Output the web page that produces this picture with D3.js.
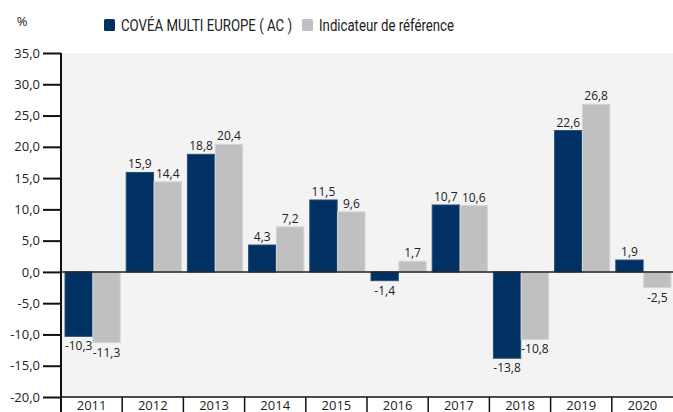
<!DOCTYPE html>
<html>
  <head>
    <script src="https://d3js.org/d3.v7.min.js" charset="utf-8"></script>
    <style>
      body { margin: 0; background: #fff; }
      text { font-family: "Open Sans", "Noto Sans", sans-serif; fill: #222; }
    </style>
  </head>
  <body>
    <svg id="chart"></svg>
    <script>
      const years = ["2011", "2012", "2013", "2014", "2015", "2016", "2017", "2018", "2019", "2020"]
      const fundValues = [-10.3, 15.9, 18.8, 4.3, 11.5, -1.4, 10.7, -13.8, 22.6, 1.9]
      const benchValues = [-11.3, 14.4, 20.4, 7.2, 9.6, 1.7, 10.6, -10.8, 26.8, -2.5]
      const seriesNames = ["COVÉA MULTI EUROPE ( AC )", "Indicateur de référence"]
      const yTicks = [-20, -15, -10, -5, 0, 5, 10, 15, 20, 25, 30, 35]

      const W = 673, H = 412
      const margin = {top: 53, right: 0, bottom: 15, left: 61}
      const width = W - margin.left - margin.right,
          height = H - margin.top - margin.bottom
      const colors = ["#003162", "#c0c0c0"]
      const fmt = v => d3.format(".1f")(v).replace(".", ",").replace("−", "-")

      const svg = d3.select("#chart").attr("width", W).attr("height", H)
      const g = svg.append("g").attr("transform", `translate(${margin.left}, ${margin.top})`)

      var xScale = d3.scaleBand().domain(years).range([0, width])
      var inner = d3.scaleBand().domain([0, 1]).range([4, xScale.bandwidth() - 2]).paddingInner(0.02)
      var yScale = d3.scaleLinear().domain([-20, 35]).range([height, 0])

      // plot background
      g.append("rect").attr("x", 0).attr("y", 0).attr("width", width).attr("height", height)
        .attr("fill", "#f3f3f3")

      // y axis
      var yAxis = d3.axisLeft(yScale).tickValues(yTicks).tickSize(18).tickPadding(3).tickFormat(fmt)
      var yAxisGroup = g.append("g").call(yAxis)
      yAxisGroup.select(".domain").remove()
      yAxisGroup.selectAll(".tick line").attr("stroke", "#111").attr("stroke-width", 2)
      yAxisGroup.selectAll("text").attr("font-size", 13).attr("fill", "#222")
        .style("font-family", '"Open Sans", "Noto Sans", sans-serif')
      g.append("line").attr("x1", 0).attr("x2", 0).attr("y1", 0).attr("y2", height + margin.bottom)
        .attr("stroke", "#111").attr("stroke-width", 2)

      // bars
      const series = [fundValues, benchValues]
      series.forEach((vals, si) => {
        g.append("g").selectAll("rect")
          .data(vals)
          .enter()
          .append("rect")
          .attr("x", (d, i) => xScale(years[i]) + inner(si))
          .attr("width", inner.bandwidth())
          .attr("y", d => yScale(Math.max(0, d)))
          .attr("height", d => Math.abs(yScale(d) - yScale(0)))
          .attr("fill", colors[si])
          .attr("stroke", si == 0 ? "#2a4f7a" : "#d4d4d4")
          .attr("stroke-width", 1)

        g.append("g").selectAll("text")
          .data(vals)
          .enter()
          .append("text")
          .attr("x", (d, i) => xScale(years[i]) + inner(si) + inner.bandwidth() / 2)
          .attr("y", d => d >= 0 ? yScale(d) - 4 : yScale(d) + 14)
          .attr("text-anchor", "middle")
          .attr("font-size", 12)
          .text(d => fmt(d))
      })

      // zero line
      g.append("line").attr("x1", 0).attr("x2", width).attr("y1", yScale(0)).attr("y2", yScale(0))
        .attr("stroke", "#222").attr("stroke-width", 1.5)

      // x axis band
      g.append("line").attr("x1", 0).attr("x2", width).attr("y1", height).attr("y2", height)
        .attr("stroke", "#111").attr("stroke-width", 1.5)
      g.append("g").selectAll("line")
        .data(years.slice(1))
        .enter()
        .append("line")
        .attr("x1", d => xScale(d)).attr("x2", d => xScale(d))
        .attr("y1", height).attr("y2", height + margin.bottom)
        .attr("stroke", "#111").attr("stroke-width", 1.5)
      g.append("g").selectAll("text")
        .data(years)
        .enter()
        .append("text")
        .attr("x", d => xScale(d) + xScale.bandwidth() / 2)
        .attr("y", height + 12.5)
        .attr("text-anchor", "middle")
        .attr("font-size", 13)
        .text(d => d)

      // unit + legend
      svg.append("text").attr("x", 22).attr("y", 26).attr("text-anchor", "middle")
        .attr("font-size", 13).text("%")
      const legendX = [104, 302]
      const legendLen = [171, 135]
      seriesNames.forEach((name, i) => {
        svg.append("rect").attr("x", legendX[i]).attr("y", 19).attr("width", 11).attr("height", 12)
          .attr("rx", 1.5).attr("fill", colors[i])
        svg.append("text").attr("x", legendX[i] + 17).attr("y", 30.5).attr("font-size", 16.5)
          .style("font-family", "Roboto, sans-serif")
          .attr("textLength", legendLen[i]).attr("lengthAdjust", "spacingAndGlyphs")
          .text(name)
      })
    </script>
  </body>
</html>
